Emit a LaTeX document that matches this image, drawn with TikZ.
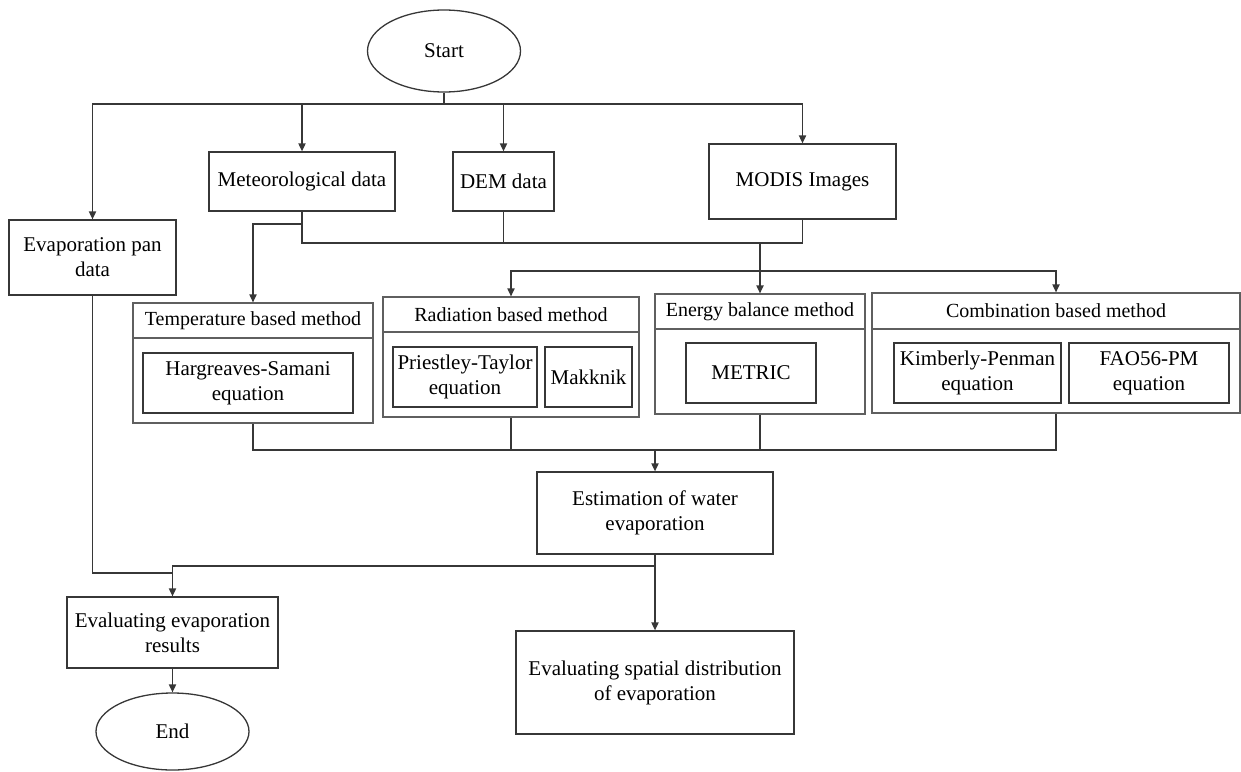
\documentclass[tikz,border=0pt]{standalone}
\usepackage{fontspec}
\setmainfont{Liberation Serif}
\usetikzlibrary{shapes.geometric,arrows.meta}
\definecolor{ln}{RGB}{55,55,55}
\definecolor{lnout}{RGB}{95,95,95}
\begin{document}
\begin{tikzpicture}[x=0.5pt,y=-0.5pt,
  every node/.style={text=black,font=\fontsize{10.5}{12.5}\selectfont},
  box/.style={draw=ln,line width=0.65pt,rectangle,inner sep=0pt,align=center},
  grp/.style={draw=lnout,line width=0.6pt,rectangle,inner sep=0pt},
  ttl/.style={font=\fontsize{10}{12}\selectfont,inner sep=0pt},
  oval/.style={draw=ln,line width=0.65pt,ellipse,inner sep=0pt},
  con/.style={draw=ln,line width=0.65pt},
  arr/.style={con,-{Triangle[length=4pt,width=3.6pt]}}]
\useasboundingbox (0,0) rectangle (1241,771);

% terminals
\node[oval,minimum width=76.5pt,minimum height=41pt] (start) at (444,51) {Start};
\node[oval,minimum width=76.5pt,minimum height=38.5pt] (end) at (172.5,731.5) {End};

% data boxes
\node[box,minimum width=83.5pt,minimum height=37.5pt] (pan) at (92.5,257.5) {Evaporation pan\\data};
\node[box,minimum width=93pt,minimum height=29.5pt] (meteo) at (302,181.5) {Meteorological data};
\node[box,minimum width=50.5pt,minimum height=29.5pt] (dem) at (503.5,181.5) {DEM data};
\node[box,minimum width=93.5pt,minimum height=37.5pt] (modis) at (802.5,181.5) {MODIS Images};

% method groups
\node[grp,minimum width=120pt,minimum height=60pt] (tempbox) at (253,363) {};
\node[grp,minimum width=128pt,minimum height=60pt] (radbox) at (511,357) {};
\node[grp,minimum width=105pt,minimum height=60pt] (energybox) at (760,354) {};
\node[grp,minimum width=184pt,minimum height=60pt] (combbox) at (1056,353) {};

\draw[draw=lnout,line width=0.6pt] (tempbox.west |- 0,338) -- (tempbox.east |- 0,338);
\draw[draw=lnout,line width=0.6pt] (radbox.west |- 0,332) -- (radbox.east |- 0,332);
\draw[draw=lnout,line width=0.6pt] (energybox.west |- 0,329) -- (energybox.east |- 0,329);
\draw[draw=lnout,line width=0.6pt] (combbox.west |- 0,329) -- (combbox.east |- 0,329);

\node[ttl] (temptitle) at (253,320.5) {Temperature based method};
\node[ttl] (radtitle) at (511,314.5) {Radiation based method};
\node[ttl] (energytitle) at (760,311.5) {Energy balance method};
\node[ttl] (combtitle) at (1056,311) {Combination based method};

\node[box,minimum width=105pt,minimum height=30pt] (hs) at (248,383) {Hargreaves-Samani\\equation};
\node[box,minimum width=72pt,minimum height=30pt] (pt) at (465,377) {Priestley-Taylor\\equation};
\node[box,minimum width=43.5pt,minimum height=30pt] (mak) at (588.5,377) {Makknik};
\node[box,minimum width=65pt,minimum height=30pt] (metric) at (751,373) {METRIC};
\node[box,minimum width=83.5pt,minimum height=30pt] (kp) at (977.5,373) {Kimberly-Penman\\equation};
\node[box,minimum width=80pt,minimum height=30pt] (fao) at (1149,373) {FAO56-PM\\equation};

% results
\node[box,minimum width=118pt,minimum height=41pt] (estim) at (655,513) {Estimation of water\\evaporation};
\node[box,minimum width=139pt,minimum height=51.5pt] (spatial) at (655,682.5) {Evaluating spatial distribution\\of evaporation};
\node[box,minimum width=105.5pt,minimum height=35.5pt] (evalres) at (172.5,632.5) {Evaluating evaporation\\results};

% connectors: top
\coordinate (j1) at (444,104);
\draw[con] (start.south) -- (j1);
\draw[arr] (j1) -| (pan.north);
\draw[arr] (j1) -| (modis.north);
\draw[arr] (j1 -| meteo.north) -- (meteo.north);
\draw[arr] (j1 -| dem.north) -- (dem.north);

% data merge
\coordinate (j2) at (302,243);
\draw[con] (meteo.south) -- (j2) -| (modis.south);
\draw[con] (dem.south) -- (dem.south |- j2);
\coordinate (j3) at (302,224);
\draw[arr] (j3) -| (tempbox.north);
\draw[arr] (energybox.north |- j2) -- (energybox.north);
\coordinate (j5) at (760,271);
\draw[arr] (j5) -| (radbox.north);
\draw[arr] (j5) -| (combbox.north);

% methods merge
\coordinate (j6) at (655,450);
\draw[con] (tempbox.south) |- (j6) -| (combbox.south);
\draw[con] (radbox.south) -- (radbox.south |- j6);
\draw[con] (energybox.south) -- (energybox.south |- j6);
\draw[arr] (j6) -- (estim.north);

% outputs
\draw[arr] (estim.south) -- (spatial.north);
\coordinate (j7) at (655,566);
\draw[arr] (j7) -| (evalres.north);
\coordinate (j8) at (172.5,573);
\draw[con] (pan.south) |- (j8);
\draw[arr] (evalres.south) -- (end.north);
\end{tikzpicture}
\end{document}
